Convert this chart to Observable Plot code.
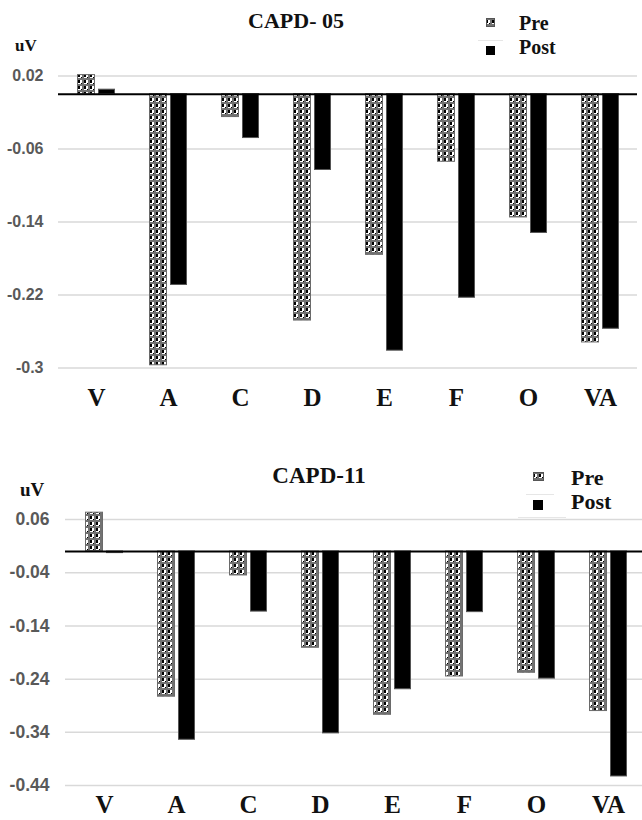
<!DOCTYPE html>
<html>
<head>
<meta charset="utf-8">
<script src="https://cdn.jsdelivr.net/npm/d3@7"></script>
<script src="https://cdn.jsdelivr.net/npm/@observablehq/plot@0.6"></script>
<style>
  html, body { margin: 0; padding: 0; background: #fff; }
  body { width: 642px; height: 820px; position: relative; overflow: hidden; }
  .chart { position: absolute; left: 0; width: 642px; overflow: hidden; }
  .chart svg { max-width: none; display: block; }
  .lbl { position: absolute; white-space: nowrap; line-height: 1; font-family: "Liberation Serif", "Times New Roman", serif; font-weight: bold; color: #111; }
  .title { transform: translateX(-50%); }
  .sw { position: absolute; }
  .faint { position: absolute; height: 1px; background: #e6e6e6; }
</style>
</head>
<body>
<svg width="0" height="0" style="position:absolute">
  <defs>
    <pattern id="prePat" width="6" height="6" patternUnits="userSpaceOnUse">
      <rect x="0" y="0" width="6" height="6" fill="#ffffff"/>
      <rect x="0" y="0" width="6" height="2" fill="#727272"/>
      <rect x="4" y="0" width="2" height="6" fill="#727272"/>
      <rect x="0" y="2" width="2" height="3" fill="#000000"/>
      <rect x="3" y="5" width="1" height="1" fill="#000000"/>
    </pattern>
  </defs>
</svg>

<div id="c1" class="chart" style="top:0px;height:430px"></div>
<div id="c2" class="chart" style="top:430px;height:390px"></div>

<div class="lbl title" style="left:296px;top:10px;font-size:22px">CAPD- 05</div>
<div class="lbl" style="left:15px;top:37px;font-size:17px">uV</div>
<svg class="sw" style="left:486px;top:18px" width="9" height="9"><rect x="0.5" y="0.5" width="8" height="8" fill="url(#prePat)" stroke="#555"/></svg>
<div class="lbl" style="left:519px;top:13px;font-size:20px">Pre</div>
<div class="faint" style="left:478px;top:40px;width:25px"></div>
<svg class="sw" style="left:486px;top:46px" width="9" height="9"><rect x="0" y="0" width="9" height="9" fill="#000"/></svg>
<div class="lbl" style="left:519px;top:37px;font-size:20px">Post</div>

<div class="lbl title" style="left:319px;top:464px;font-size:23px">CAPD-11</div>
<div class="lbl" style="left:20px;top:480px;font-size:19px">uV</div>
<svg class="sw" style="left:533px;top:472px" width="11" height="9"><rect x="0.5" y="0.5" width="10" height="8" fill="url(#prePat)" stroke="#555"/></svg>
<div class="lbl" style="left:571px;top:467px;font-size:22px">Pre</div>
<div class="faint" style="left:526px;top:494px;width:28px"></div>
<svg class="sw" style="left:533px;top:500px" width="10" height="10"><rect x="0" y="0" width="10" height="10" fill="#000"/></svg>
<div class="lbl" style="left:571px;top:491px;font-size:22px">Post</div>
<div class="faint" style="left:518px;top:517px;width:48px"></div>

<script>
// ---- data ----
const categories = ["V", "A", "C", "D", "E", "F", "O", "VA"];
const seriesNames = ["Pre", "Post"];

const pre05  = [0.021, -0.297, -0.025, -0.248, -0.176, -0.074, -0.135, -0.272];
const post05 = [0.005, -0.209, -0.048, -0.083, -0.281, -0.223, -0.152, -0.257];

const pre11  = [0.073, -0.273, -0.045, -0.181, -0.307, -0.235, -0.228, -0.300];
const post11 = [-0.003, -0.354, -0.113, -0.342, -0.259, -0.114, -0.239, -0.423];

const yTicks05 = [0.02, -0.06, -0.14, -0.22, -0.3];
const yTickLabels05 = ["0.02", "-0.06", "-0.14", "-0.22", "-0.3"];
const yTicks11 = [0.06, -0.04, -0.14, -0.24, -0.34, -0.44];
const yTickLabels11 = ["0.06", "-0.04", "-0.14", "-0.24", "-0.34", "-0.44"];

function rows(pre, post) {
  const out = [];
  categories.forEach((c, i) => {
    out.push({cat: c, series: seriesNames[0], value: pre[i]});
    out.push({cat: c, series: seriesNames[1], value: post[i]});
  });
  return out;
}

function chart(cfg) {
  const data = rows(cfg.pre, cfg.post);
  const labelMap = new Map(cfg.ticks.map((t, i) => [t, cfg.tickLabels[i]]));
  const xScale = {type: "band", domain: categories, padding: 0};
  if (cfg.xRange) xScale.range = cfg.xRange;
  return Plot.plot({
    width: 642,
    height: cfg.height,
    marginTop: cfg.marginTop,
    marginBottom: cfg.marginBottom,
    marginLeft: cfg.marginLeft,
    marginRight: cfg.marginRight,
    x: xScale,
    y: {domain: cfg.yDomain},
    marks: [
      Plot.gridY(cfg.ticks, {stroke: "#d9d9d9", strokeOpacity: 1, strokeWidth: 1.5}),
      Plot.barY(data.filter(d => d.series === "Pre"), {
        x: "cat", y1: 0, y2: "value",
        fill: "url(#prePat)", stroke: "#6a6a6a", strokeWidth: 1,
        insetLeft: 17.5, insetRight: 37.5
      }),
      Plot.barY(data.filter(d => d.series === "Post"), {
        x: "cat", y1: 0, y2: "value",
        fill: "#000", stroke: "#555", strokeWidth: 1,
        insetLeft: 38.5, insetRight: 17.5
      }),
      Plot.ruleY([0], {stroke: "#000", strokeWidth: 2}),
      Plot.axisY(cfg.ticks, {
        label: null,
        tickSize: 0, tickPadding: cfg.yPad,
        tickFormat: d => labelMap.get(d),
        fontSize: cfg.yFont, fontWeight: "bold",
        fontFamily: "Liberation Sans, Arial, sans-serif", fill: "#595959"
      }),
      Plot.axisX({
        label: null,
        tickSize: 0, tickPadding: cfg.xPad,
        fontSize: 25, fontWeight: "bold",
        fontFamily: "Liberation Serif, Times New Roman, serif", fill: "#111"
      })
    ]
  });
}

document.getElementById("c1").appendChild(chart({
  pre: pre05, post: post05, ticks: yTicks05, tickLabels: yTickLabels05,
  yDomain: [-0.3, 0.02], height: 430, marginTop: 75.5, marginBottom: 62.5,
  marginLeft: 58, marginRight: 5, yPad: 15, yFont: 16, xPad: 20
}));

document.getElementById("c2").appendChild(chart({
  pre: pre11, post: post11, ticks: yTicks11, tickLabels: yTickLabels11,
  yDomain: [-0.44, 0.06], height: 390, marginTop: 89.1, marginBottom: 35,
  marginLeft: 65, marginRight: 0, xRange: [65, 646.6], yPad: 16, yFont: 17.5, xPad: 10
}));
</script>
</body>
</html>
